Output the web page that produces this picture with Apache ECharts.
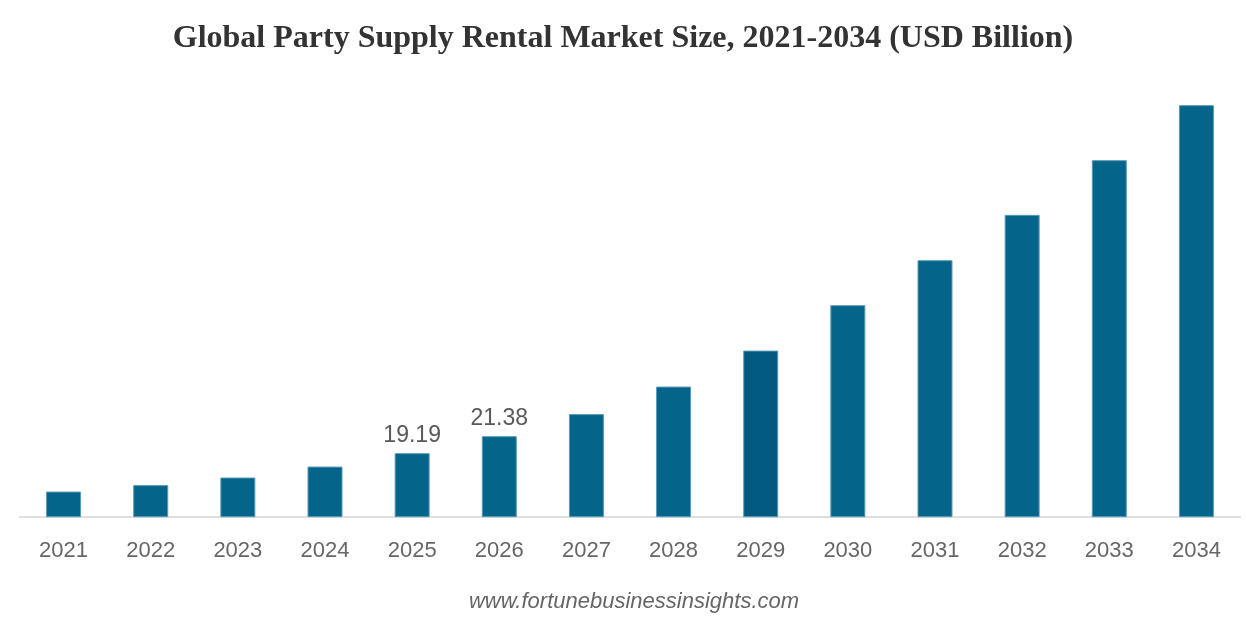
<!DOCTYPE html>
<html>
<head>
<meta charset="utf-8">
<title>Global Party Supply Rental Market Size</title>
<script src="https://cdn.jsdelivr.net/npm/echarts@6/dist/echarts.min.js"></script>
<style>
  html, body { margin: 0; padding: 0; background: #fff; }
  #chart { width: 1246px; height: 620px; }
</style>
</head>
<body>
<div id="chart"></div>
<script type="text/javascript">
// years on the x axis
var years = ['2021', '2022', '2023', '2024', '2025', '2026', '2027',
             '2028', '2029', '2030', '2031', '2032', '2033', '2034'];
// market size, USD billion (only 2025 / 2026 are printed on the source)
var marketSize = [14.24, 15.07, 16.05, 17.46, 19.19, 21.38, 24.22,
                  27.77, 32.41, 38.26, 44.06, 49.90, 56.95, 64.04];
// years that carry a value label
var labelledYears = ['2025', '2026'];

var myChart = echarts.init(document.getElementById('chart'));

var barData = marketSize.map(function (v, i) {
	var item = { value: v };
	if (labelledYears.indexOf(years[i]) > -1) {
		item.label = { show: true };
	}
	if (years[i] === '2029') {
		item.itemStyle = { color: '#025a80' };
	}
	return item;
});

option = {
	animation: false,
	title: [
		{
			text: 'Global Party Supply Rental Market Size, 2021-2034 (USD Billion)',
			left: 'center',
			top: 18,
			textStyle: {
				fontFamily: 'Liberation Serif',
				fontWeight: 'bold',
				fontSize: 32,
				color: '#333333'
			}
		},
		{
			text: 'www.fortunebusinessinsights.com',
			left: 629,
			textAlign: 'center',
			top: 586,
			textStyle: {
				fontFamily: 'Liberation Sans',
				fontStyle: 'italic',
				fontWeight: 'normal',
				fontSize: 22,
				color: '#666666'
			}
		}
	],
	grid: {
		left: 20,
		right: 6,
		top: 97.7,
		bottom: 103.3
	},
	xAxis: {
		type: 'category',
		data: years,
		axisLine: { lineStyle: { color: '#dedede', width: 2 } },
		axisTick: { show: false },
		axisLabel: {
			margin: 23,
			fontFamily: 'Liberation Sans',
			fontSize: 22,
			color: '#666666'
		}
	},
	yAxis: {
		type: 'value',
		min: 11,
		max: 65,
		show: false,
		splitLine: { show: false }
	},
	series: [
		{
			type: 'bar',
			data: barData,
			barWidth: 35,
			itemStyle: {
				color: '#04648a',
				borderColor: '#5a9ab8',
				borderWidth: 1
			},
			label: {
				show: false,
				position: 'top',
				distance: 6,
				fontFamily: 'Liberation Sans',
				fontSize: 23,
				color: '#595959'
			}
		}
	]
};
myChart.setOption(option);
</script>
</body>
</html>
